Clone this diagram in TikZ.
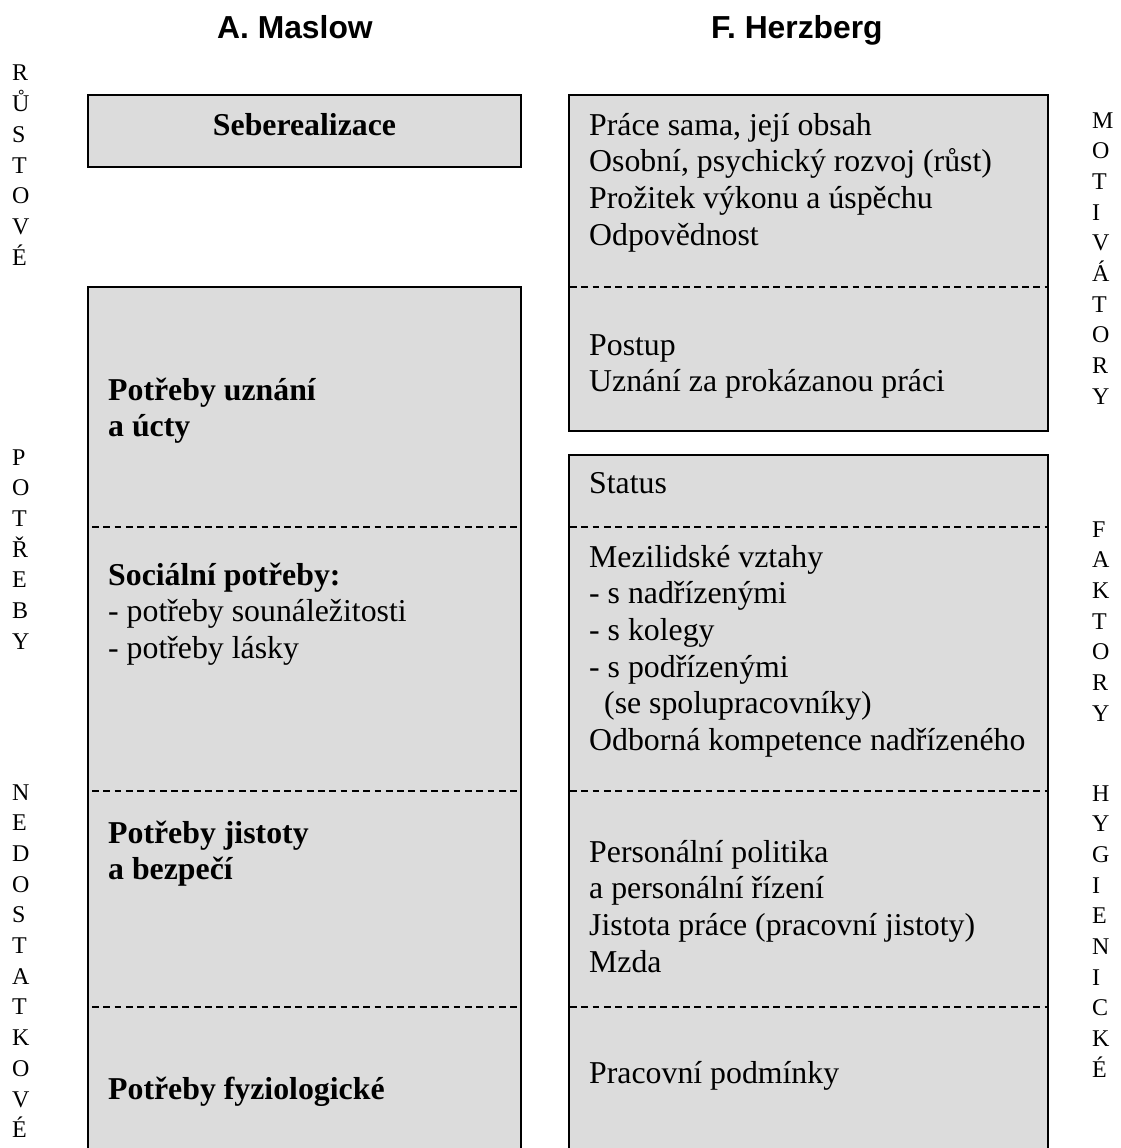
\documentclass[tikz,border=0pt]{standalone}
\usepackage{fontspec}
\setmainfont{Liberation Serif}
\newfontfamily\hdfont{Liberation Sans}
\definecolor{boxfill}{RGB}{220,220,220}
\newcommand\blk[2]{\vtop{\baselineskip=#1\lineskiplimit=-\maxdimen\lineskip=0pt\relax #2}}
\begin{document}
\begin{tikzpicture}[x=1pt,y=-1pt,
  boxst/.style={draw=black, line width=1.8pt, fill=boxfill},
  sepline/.style={draw=black, line width=1.3pt, dash pattern=on 6.8pt off 4.5pt},
  ttl/.style={anchor=base west, inner sep=0pt, font=\hdfont\bfseries\fontsize{31.8pt}{36.7pt}\selectfont},
  txt/.style={anchor=base west, inner sep=0pt, font=\fontsize{31.8pt}{36.7pt}\selectfont},
  txtb/.style={txt, font=\bfseries\fontsize{31.8pt}{36.7pt}\selectfont},
  side/.style={anchor=base west, inner sep=0pt, font=\fontsize{24pt}{30.7pt}\selectfont}]
\useasboundingbox (0,0) rectangle (1120,1148);
\clip (0,0) rectangle (1120,1148);
% boxes
\draw[boxst] (88,95) rectangle (521,167);
\draw[boxst] (88,287) rectangle (521,1175);
\draw[boxst] (569,95) rectangle (1048,431);
\draw[boxst] (569,455) rectangle (1048,1175);
% separators
\draw[sepline] (92,527) -- (521,527);
\draw[sepline] (92,791) -- (521,791);
\draw[sepline] (92,1007) -- (521,1007);
\draw[sepline] (570,287) -- (1048,287);
\draw[sepline] (570,527) -- (1048,527);
\draw[sepline] (570,791) -- (1048,791);
\draw[sepline] (570,1007) -- (1048,1007);
% titles
\node[ttl] (tmaslow) at (217,39) {A. Maslow};
\node[ttl] (therz) at (711,39) {F. Herzberg};
% Maslow
\node[txtb, anchor=base] (sebe) at (304.5,135) {Seberealizace};
\node[txtb] (uzn) at (108,400) {\blk{36.7pt}{\hbox{Potřeby uznání}\hbox{a úcty}}};
\node[txtb] (soc) at (108,585) {\blk{36.7pt}{\hbox{Sociální potřeby:}\hbox{\mdseries - potřeby sounáležitosti}\hbox{\mdseries - potřeby lásky}}};
\node[txtb] (jist) at (108,843) {\blk{36.7pt}{\hbox{Potřeby jistoty}\hbox{a bezpečí}}};
\node[txtb] (fyz) at (108,1099) {Potřeby fyziologické};
% Herzberg
\node[txt] (h1) at (589,135) {\blk{36.7pt}{\hbox{Práce sama, její obsah}\hbox{Osobní, psychický rozvoj (růst)}\hbox{Prožitek výkonu a úspěchu}\hbox{Odpovědnost}}};
\node[txt] (h2) at (589,355) {\blk{36.7pt}{\hbox{Postup}\hbox{Uznání za prokázanou práci}}};
\node[txt] (h3) at (589,493) {Status};
\node[txt] (h4) at (589,567) {\blk{36.7pt}{\hbox{Mezilidské vztahy}\hbox{- s nadřízenými}\hbox{- s kolegy}\hbox{- s podřízenými}\hbox{\hskip15pt(se spolupracovníky)}\hbox{Odborná kompetence nadřízeného}}};
\node[txt] (h5) at (589,862) {\blk{36.7pt}{\hbox{Personální politika}\hbox{a personální řízení}\hbox{Jistota práce (pracovní jistoty)}\hbox{Mzda}}};
\node[txt] (h6) at (589,1083) {Pracovní podmínky};
% side letters left
\node[side] (lrust) at (12,81) {\blk{30.7pt}{\hbox{R}\hbox{Ů}\hbox{S}\hbox{T}\hbox{O}\hbox{V}\hbox{É}}};
\node[side] (lpotr) at (12,465) {\blk{30.7pt}{\hbox{P}\hbox{O}\hbox{T}\hbox{Ř}\hbox{E}\hbox{B}\hbox{Y}}};
\node[side] (lnedo) at (12,800) {\blk{30.7pt}{\hbox{N}\hbox{E}\hbox{D}\hbox{O}\hbox{S}\hbox{T}\hbox{A}\hbox{T}\hbox{K}\hbox{O}\hbox{V}\hbox{É}}};
% side letters right
\node[side] (rmot) at (1092,128) {\blk{30.7pt}{\hbox{M}\hbox{O}\hbox{T}\hbox{I}\hbox{V}\hbox{Á}\hbox{T}\hbox{O}\hbox{R}\hbox{Y}}};
\node[side] (rfak) at (1092,537) {\blk{30.7pt}{\hbox{F}\hbox{A}\hbox{K}\hbox{T}\hbox{O}\hbox{R}\hbox{Y}}};
\node[side] (rhyg) at (1092,801) {\blk{30.7pt}{\hbox{H}\hbox{Y}\hbox{G}\hbox{I}\hbox{E}\hbox{N}\hbox{I}\hbox{C}\hbox{K}\hbox{É}}};
\end{tikzpicture}
\end{document}
